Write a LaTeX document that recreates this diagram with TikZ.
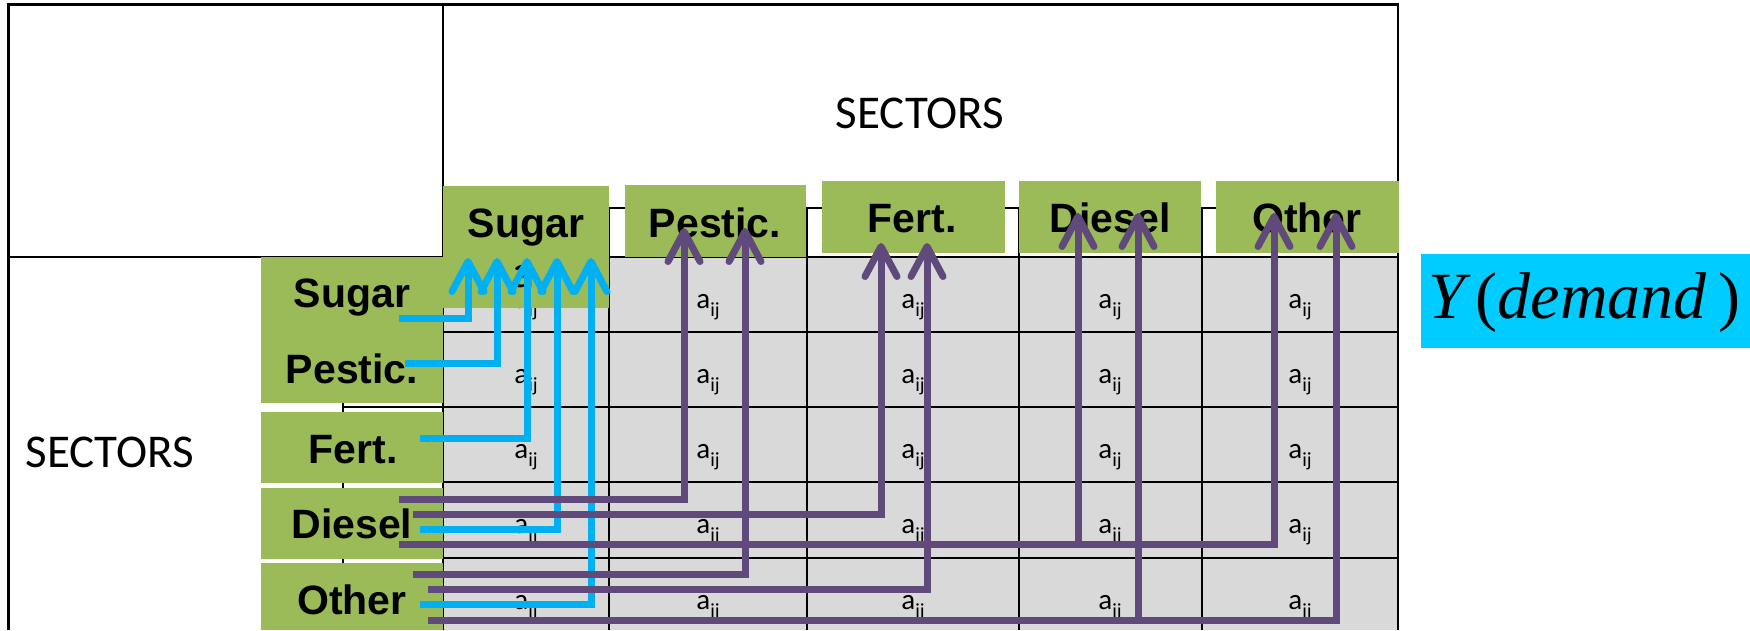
\documentclass[tikz,border=0pt]{standalone}
\usepackage{fontspec}
\setmainfont{Carlito}
\newfontfamily\labfont{Liberation Sans}
\newfontfamily\eqfont{Liberation Serif}
\usetikzlibrary{arrows.meta}
\definecolor{cgreen}{HTML}{9BBB59}
\definecolor{cgray}{HTML}{D9D9D9}
\definecolor{cblue}{HTML}{00B0F0}
\definecolor{cpurple}{HTML}{604A7B}
\definecolor{ccyan}{HTML}{00CCFF}
\begin{document}
\begin{tikzpicture}[x=1pt,y=-1pt,
 gridline/.style={line width=2.4pt, draw=black},
 gbox/.style={fill=cgreen, draw=none, inner sep=0pt, outer sep=0pt},
 lab/.style={font=\labfont\bfseries\fontsize{41}{41}\selectfont, anchor=base, inner sep=0pt},
 sect/.style={font=\fontsize{47}{47}\selectfont, anchor=base, inner sep=0pt},
 aij/.style={font=\fontsize{29}{29}\selectfont, anchor=base, inner sep=0pt},
 flow/.style={line width=7pt, -{Straight Barb[length=30pt,width=32pt,round]}},
 bflow/.style={flow, draw=cblue},
 pflow/.style={flow, draw=cpurple},
]
\useasboundingbox (0,0) rectangle (1750,630);
\fill[white] (0,0) rectangle (1750,630);
% table body
\fill[cgray] (443,257) rectangle (1398,630);
\draw[gridline] (8.5,630) -- (8.5,4.5) -- (1398,4.5) -- (1398,630);
\draw[gridline] (443,4.5) -- (443,630);
\draw[gridline] (8.5,257) -- (1398,257);
\draw[gridline] (443,208) -- (1398,208);
\draw[gridline] (343,257) -- (343,630);
\foreach \yy in {332,407,482,558} \draw[gridline] (343,\yy) -- (1398,\yy);
\foreach \xx in {609,807,1019,1202} \draw[gridline] (\xx,208) -- (\xx,630);
% cell labels
\foreach \cx [count=\c] in {526,708,913,1110,1300}
 \foreach \ry [count=\r] in {308,383,458,533,609}
  \node[aij] (a\c\r) at (\cx,\ry) {a{\fontsize{20}{20}\selectfont\raisebox{-8pt}{ij}}};
% SECTORS labels
\node[sect] (secTop) at (920,128) {SECTORS};
\node[sect] (secLeft) at (110,467) {SECTORS};
% green header boxes
\node[gbox, minimum width=166pt, minimum height=122pt] (hSugar) at (526,247) {};
\node[gbox, minimum width=181pt, minimum height=72pt] (hPest) at (715.5,221) {};
\node[gbox, minimum width=183pt, minimum height=72pt] (hFert) at (913.5,217) {};
\node[gbox, minimum width=182pt, minimum height=72pt] (hDies) at (1110,217) {};
\node[gbox, minimum width=183pt, minimum height=72pt] (hOther) at (1307.5,217) {};
\node[gbox, minimum width=182pt, minimum height=146pt] (rSP) at (352,330) {};
\node[gbox, minimum width=182pt, minimum height=71pt] (rFert) at (352,447.5) {};
\node[gbox, minimum width=182pt, minimum height=71pt] (rDies) at (352,523.5) {};
\node[gbox, minimum width=182pt, minimum height=67pt] (rOther) at (352,596.5) {};
% header texts
\node[lab] (tSugarC) at (526,237) {Sugar};
\node[lab] (tPestC) at (715,237) {Pestic.};
\node[lab] (tFertC) at (912,232) {Fert.};
\node[lab] (tDiesC) at (1110,232) {Diesel};
\node[lab] (tOtherC) at (1307,232) {Other};
\node[lab] (tSugarR) at (352,307) {Sugar};
\node[lab] (tPestR) at (352,383) {Pestic.};
\node[lab] (tFertR) at (353,463) {Fert.};
\node[lab] (tDiesR) at (352,538) {Diesel};
\node[lab] (tOtherR) at (352,614) {Other};
\node[font=\fontsize{46}{46}\selectfont, anchor=base, inner sep=0pt, text height=22pt, text depth=0pt] (aExtra) at (524,287) {a};
% connector end points
\coordinate (b1s) at (399,318); \coordinate (b1t) at (468,258);
\coordinate (b2s) at (405,363); \coordinate (b2t) at (497,258);
\coordinate (b3s) at (420,438); \coordinate (b3t) at (527,258);
\coordinate (b4s) at (420,529); \coordinate (b4t) at (557,258);
\coordinate (b5s) at (420,604); \coordinate (b5t) at (591,258);
\coordinate (p1s) at (399,499); \coordinate (p1t) at (684,228);
\coordinate (p2s) at (413,514); \coordinate (p2t) at (881,243);
\coordinate (p3s) at (399,544); \coordinate (p3t) at (1274,213);
\coordinate (p3j) at (1078,544); \coordinate (p3u) at (1078,213);
\coordinate (p4s) at (413,574); \coordinate (p4t) at (745,228);
\coordinate (p5s) at (428,589); \coordinate (p5t) at (927,243);
\coordinate (p6s) at (428,620); \coordinate (p6t) at (1336,213);
\coordinate (p6j) at (1138,620); \coordinate (p6u) at (1138,213);
% blue arrows
\draw[bflow] (b1s) -| (b1t);
\draw[bflow] (b2s) -| (b2t);
\draw[bflow] (b3s) -| (b3t);
\draw[bflow] (b4s) -| (b4t);
\draw[bflow] (b5s) -| (b5t);
% purple arrows
\draw[pflow] (p1s) -| (p1t);
\draw[pflow] (p2s) -| (p2t);
\draw[pflow] (p3s) -| (p3t);
\draw[pflow] (p3j) -- (p3u);
\draw[pflow] (p4s) -| (p4t);
\draw[pflow] (p5s) -| (p5t);
\draw[pflow] (p6s) -| (p6t);
\draw[pflow] (p6j) -- (p6u);
% demand box
\node[fill=ccyan, inner sep=0pt, minimum width=329pt, minimum height=94pt] (ybox) at (1585.5,301) {};
\node[font=\eqfont\fontsize{66}{66}\selectfont, anchor=base west, inner sep=0pt] (ytext) at (1428,318) {\itshape Y\hspace{11pt}\upshape(\itshape demand\hspace{12pt}\upshape)};
\end{tikzpicture}
\end{document}
